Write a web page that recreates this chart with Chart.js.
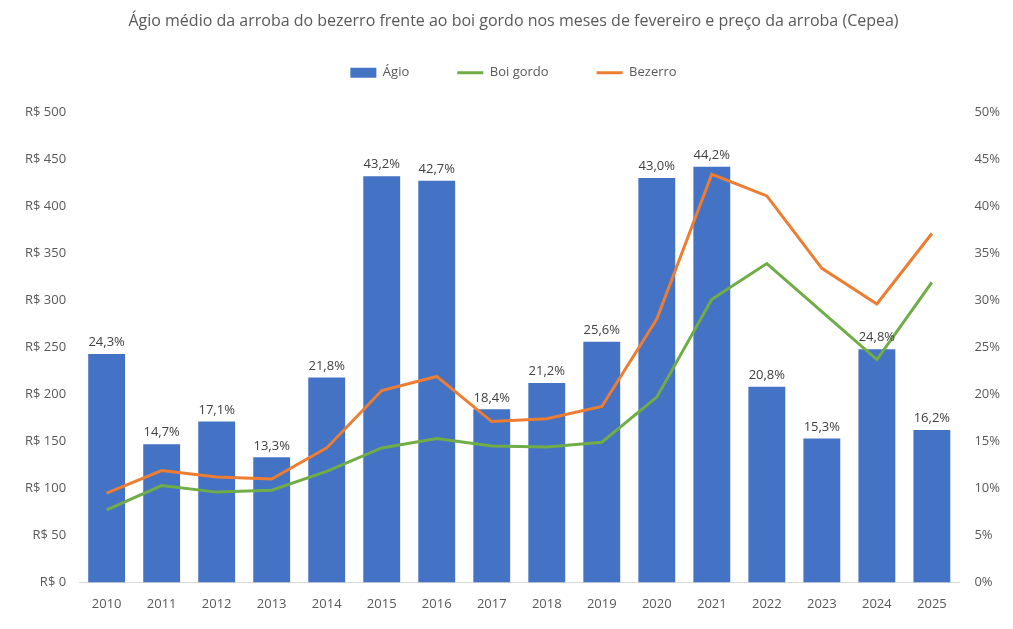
<!DOCTYPE html>
<html>
<head>
<meta charset="utf-8">
<script src="https://cdn.jsdelivr.net/npm/chart.js@4"></script>
<style>
  html, body { margin: 0; padding: 0; background: #fff; }
  #wrap { width: 1013px; height: 629px; }
</style>
</head>
<body>
<div id="wrap"><canvas id="agioChart"></canvas></div>
<script>
// Ágio / preço da arroba (Cepea), fevereiro
const years = ['2010', '2011', '2012', '2013', '2014', '2015', '2016', '2017',
  '2018', '2019', '2020', '2021', '2022', '2023', '2024', '2025'];
const agio = [24.3, 14.7, 17.1, 13.3, 21.8, 43.2, 42.7, 18.4, 21.2, 25.6, 43.0, 44.2, 20.8, 15.3, 24.8, 16.2];
const boiGordo = [77, 103, 96, 98, 118, 143, 153, 145, 144, 149, 197, 301, 339, 288, 237, 319];
const bezerro = [95, 119, 112, 110, 143, 204, 219, 171, 174, 187, 280, 434, 411, 334, 296, 371];

const fontFamily = "'Open Sans', 'Noto Sans', sans-serif";
const textColor = '#595959';

// percent labels over the bars
const barLabels = {
  id: 'barLabels',
  afterDatasetsDraw(chart) {
    const ctx = chart.ctx;
    const meta = chart.getDatasetMeta(0);
    ctx.save();
    ctx.font = '13px ' + fontFamily;
    ctx.fillStyle = '#404040';
    ctx.textAlign = 'center';
    ctx.textBaseline = 'bottom';
    meta.data.forEach((bar, i) => {
      ctx.fillText(agio[i].toFixed(1).replace('.', ',') + '%', bar.x, bar.y - 5);
    });
    ctx.restore();
  }
};

// extra room between legend and plot
const legendSpace = {
  id: 'legendSpace',
  beforeInit(chart) {
    const fit = chart.legend.fit;
    chart.legend.fit = function () {
      fit.bind(chart.legend)();
      this.height += 23;
    };
  }
};

const data = {
  labels: years,
  datasets: [{
    type: 'bar',
    label: 'Ágio',
    data: agio,
    yAxisID: 'y1',
    backgroundColor: '#4472C4',
    pointStyle: 'rect',
    categoryPercentage: 1,
    barPercentage: 0.67,
    order: 2
  }, {
    type: 'line',
    label: 'Boi gordo',
    data: boiGordo,
    yAxisID: 'y',
    borderColor: '#70AD47',
    backgroundColor: '#70AD47',
    borderWidth: 3,
    pointRadius: 0,
    pointStyle: 'line',
    tension: 0,
    order: 1
  }, {
    type: 'line',
    label: 'Bezerro',
    data: bezerro,
    yAxisID: 'y',
    borderColor: '#ED7D31',
    backgroundColor: '#ED7D31',
    borderWidth: 3,
    pointRadius: 0,
    pointStyle: 'line',
    tension: 0,
    order: 0
  }]
};

const options = {
  responsive: true,
  maintainAspectRatio: false,
  animation: false,
  layout: { padding: { left: 12, right: -2, top: 8, bottom: 11 } },
  plugins: {
    title: {
      display: true,
      text: 'Ágio médio da arroba do bezerro frente ao boi gordo nos meses de fevereiro e preço da arroba (Cepea)',
      color: textColor,
      font: { family: fontFamily, size: 16, weight: 'normal' },
      padding: { top: 4, bottom: -13 }
    },
    legend: {
      position: 'top',
      labels: {
        color: textColor,
        font: { family: fontFamily, size: 13 },
        usePointStyle: true,
        pointStyleWidth: 26,
        boxWidth: 26,
        boxHeight: 10,
        padding: 48,
        sort: (a, b) => a.datasetIndex - b.datasetIndex
      }
    },
    tooltip: { enabled: false }
  },
  scales: {
    x: {
      grid: { display: false },
      border: { color: '#d9d9d9' },
      ticks: { color: textColor, font: { family: fontFamily, size: 13 }, padding: 6 }
    },
    y: {
      position: 'left',
      min: 0,
      max: 500,
      grid: { display: false, drawTicks: false },
      border: { display: false },
      ticks: {
        stepSize: 50,
        color: textColor,
        font: { family: fontFamily, size: 13 },
        padding: 13,
        callback: v => 'R$ ' + v
      }
    },
    y1: {
      position: 'right',
      min: 0,
      max: 50,
      grid: { display: false, drawTicks: false },
      border: { display: false },
      ticks: {
        stepSize: 5,
        color: textColor,
        font: { family: fontFamily, size: 13 },
        padding: 15,
        callback: v => v + '%'
      }
    }
  }
};

let agioChart = new Chart(document.getElementById('agioChart'), {
  type: 'bar',
  data,
  options,
  plugins: [barLabels, legendSpace]
});
</script>
</body>
</html>
